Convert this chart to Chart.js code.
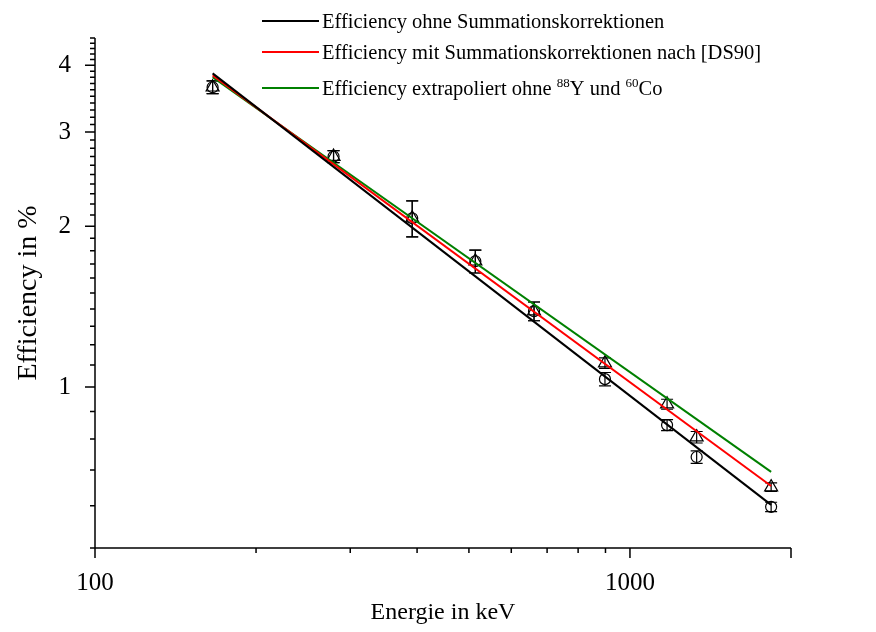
<!DOCTYPE html>
<html lang="de">
<head>
    <meta charset="UTF-8">
    <title>Efficiency</title>
    <script src="https://cdn.jsdelivr.net/npm/chart.js"></script>
    <style>
        body {
            margin: 0;
            background-color: #ffffff;
        }
        #effChart {
            display: block;
        }
    </style>
</head>
<body>
    <canvas id="effChart" width="876" height="632"></canvas>

    <script>
        // gamma lines of the calibration source (keV)
        const energies = [165.9, 279.2, 391.7, 514.0, 661.7, 898.0, 1173.2, 1332.5, 1836.1];

        // measured efficiency in % (circles: without, triangles: with summing correction)
        const effOhne = [3.64, 2.70, 2.07, 1.72, 1.387, 1.035, 0.849, 0.740, 0.597];
        const errOhne = [0.10, 0.07, 0.16, 0.085, 0.056, 0.03, 0.02, 0.02, 0.012];
        const effMit = [3.64, 2.70, 2.07, 1.72, 1.387, 1.109, 0.929, 0.806, 0.650];
        const errMit = [0.10, 0.07, 0.16, 0.085, 0.056, 0.025, 0.02, 0.02, 0.012];

        // fitted power laws, value at both ends of the fit range
        const fitRange = [165.9, 1836.1];
        const fitOhne = [3.864, 0.602];
        const fitMit = [3.83, 0.653];
        const fitExtra = [3.80, 0.694];

        const fitLabels = [
            'Efficiency ohne Summationskorrektionen',
            'Efficiency mit Summationskorrektionen nach [DS90]',
            'Efficiency extrapoliert ohne ^88Y und ^60Co'
        ];

        // axis ticks
        const xTicks = [100, 200, 300, 400, 500, 600, 700, 800, 900, 1000, 2000];
        const xMajor = [100, 1000, 2000];
        const xLabels = [100, 1000];
        const yTicks = [0.5, 0.6, 0.7, 0.8, 0.9, 1, 1.1, 1.2, 1.3, 1.4, 1.5, 1.6, 1.7, 1.8, 1.9,
            2, 2.1, 2.2, 2.3, 2.4, 2.5, 2.6, 2.7, 2.8, 2.9, 3, 3.1, 3.2, 3.3, 3.4, 3.5, 3.6, 3.7,
            3.8, 3.9, 4, 4.1, 4.2, 4.3, 4.4, 4.5];
        const yLabels = [1, 2, 3, 4];

        const toPoints = (xs, ys) => xs.map((x, i) => ({ x: x, y: ys[i] }));

        Chart.defaults.font.family = "'Liberation Serif', 'Times New Roman', serif";
        Chart.defaults.color = '#000';

        // vertical error bars with caps
        const errorBars = {
            id: 'errorBars',
            beforeDatasetsDraw(chart) {
                const { ctx, scales: { x, y } } = chart;
                ctx.save();
                ctx.strokeStyle = '#000';
                ctx.lineWidth = 1.2;
                chart.data.datasets.forEach((ds, i) => {
                    if (!ds.errors || !chart.isDatasetVisible(i)) return;
                    ds.data.forEach((p, j) => {
                        const e = ds.errors[j];
                        const px = x.getPixelForValue(p.x);
                        const top = y.getPixelForValue(p.y + e);
                        const bot = y.getPixelForValue(p.y - e);
                        ctx.beginPath();
                        ctx.moveTo(px, top); ctx.lineTo(px, bot);
                        ctx.moveTo(px - 6, top); ctx.lineTo(px + 6, top);
                        ctx.moveTo(px - 6, bot); ctx.lineTo(px + 6, bot);
                        ctx.stroke();
                    });
                });
                ctx.restore();
            }
        };

        // axis lines and outside tick marks (long on labelled ticks)
        const tickMarks = {
            id: 'tickMarks',
            afterDraw(chart) {
                const { ctx, chartArea: a, scales: { x, y } } = chart;
                ctx.save();
                ctx.strokeStyle = '#000';
                ctx.lineWidth = 1.5;
                ctx.beginPath();
                ctx.moveTo(a.left, a.top);
                ctx.lineTo(a.left, a.bottom);
                ctx.lineTo(a.right, a.bottom);
                x.ticks.forEach(t => {
                    const px = x.getPixelForValue(t.value);
                    ctx.moveTo(px, a.bottom);
                    ctx.lineTo(px, a.bottom + (t.major ? 10 : 5));
                });
                y.ticks.forEach(t => {
                    const py = y.getPixelForValue(t.value);
                    ctx.moveTo(a.left, py);
                    ctx.lineTo(a.left - (t.major ? 10 : 5), py);
                });
                ctx.stroke();
                ctx.restore();
            }
        };

        // legend of the fit lines, "^NN" is set as superscript
        const fitLegend = {
            id: 'fitLegend',
            afterDraw(chart) {
                const ctx = chart.ctx;
                const rowY = [21, 52, 88];
                ctx.save();
                ctx.textBaseline = 'alphabetic';
                chart.data.datasets.filter(ds => ds.showLine).forEach((ds, i) => {
                    const yLine = rowY[i];
                    ctx.strokeStyle = ds.borderColor;
                    ctx.lineWidth = 2;
                    ctx.beginPath();
                    ctx.moveTo(262, yLine);
                    ctx.lineTo(319, yLine);
                    ctx.stroke();

                    let xText = 322;
                    ctx.fillStyle = '#000';
                    ds.label.split(/(\^\d+)/).forEach(part => {
                        if (!part) return;
                        const sup = part.startsWith('^');
                        const txt = sup ? part.slice(1) : part;
                        ctx.font = (sup ? '13px ' : '20.5px ') + Chart.defaults.font.family;
                        ctx.fillText(txt, xText, yLine + (sup ? -1 : 7));
                        xText += ctx.measureText(txt).width;
                    });
                });
                ctx.restore();
            }
        };

        new Chart(document.getElementById('effChart'), {
            type: 'scatter',
            data: {
                datasets: [
                    {
                        label: fitLabels[0],
                        data: toPoints(fitRange, fitOhne),
                        showLine: true,
                        borderColor: '#000000',
                        borderWidth: 2,
                        pointRadius: 0,
                        order: 0
                    },
                    {
                        label: fitLabels[1],
                        data: toPoints(fitRange, fitMit),
                        showLine: true,
                        borderColor: '#ff0000',
                        borderWidth: 2,
                        pointRadius: 0,
                        order: 0
                    },
                    {
                        label: fitLabels[2],
                        data: toPoints(fitRange, fitExtra),
                        showLine: true,
                        borderColor: '#008000',
                        borderWidth: 2,
                        pointRadius: 0,
                        order: 0
                    },
                    {
                        label: 'ohne Korrektur',
                        data: toPoints(energies, effOhne),
                        errors: errOhne,
                        pointStyle: 'circle',
                        pointRadius: 5.5,
                        borderColor: '#000',
                        borderWidth: 1.2,
                        backgroundColor: 'rgba(0,0,0,0)',
                        order: 1
                    },
                    {
                        label: 'mit Korrektur',
                        data: toPoints(energies, effMit),
                        errors: errMit,
                        pointStyle: 'triangle',
                        pointRadius: 7.5,
                        borderColor: '#000',
                        borderWidth: 1.2,
                        backgroundColor: 'rgba(0,0,0,0)',
                        order: 1
                    }
                ]
            },
            options: {
                responsive: false,
                animation: false,
                layout: { padding: { top: 38, right: 85, left: 0, bottom: 0 } },
                plugins: {
                    legend: { display: false },
                    tooltip: { enabled: false }
                },
                scales: {
                    x: {
                        type: 'logarithmic',
                        min: 100,
                        max: 2000,
                        grid: { display: false },
                        border: { display: false },
                        afterBuildTicks: scale => {
                            scale.ticks = xTicks.map(v => ({ value: v, major: xMajor.includes(v) }));
                        },
                        afterFit: scale => { scale.height = 84; },
                        ticks: {
                            autoSkip: false,
                            maxRotation: 0,
                            padding: 12,
                            font: { size: 25 },
                            callback: v => xLabels.includes(v) ? String(v) : ''
                        },
                        title: {
                            display: true,
                            text: 'Energie in keV',
                            font: { size: 24 },
                            padding: { top: 0, bottom: 5 }
                        }
                    },
                    y: {
                        type: 'logarithmic',
                        min: 0.5,
                        max: 4.5,
                        grid: { display: false },
                        border: { display: false },
                        afterBuildTicks: scale => {
                            scale.ticks = yTicks.map(v => ({ value: v, major: yLabels.includes(v) }));
                        },
                        afterFit: scale => { scale.width = 95; },
                        ticks: {
                            autoSkip: false,
                            padding: 16,
                            font: { size: 25 },
                            callback: v => yLabels.includes(v) ? String(v) : ''
                        },
                        title: {
                            display: true,
                            text: 'Efficiency in %',
                            font: { size: 28 },
                            padding: { top: 12, bottom: 0 }
                        }
                    }
                }
            },
            plugins: [errorBars, tickMarks, fitLegend]
        });
    </script>
</body>
</html>
